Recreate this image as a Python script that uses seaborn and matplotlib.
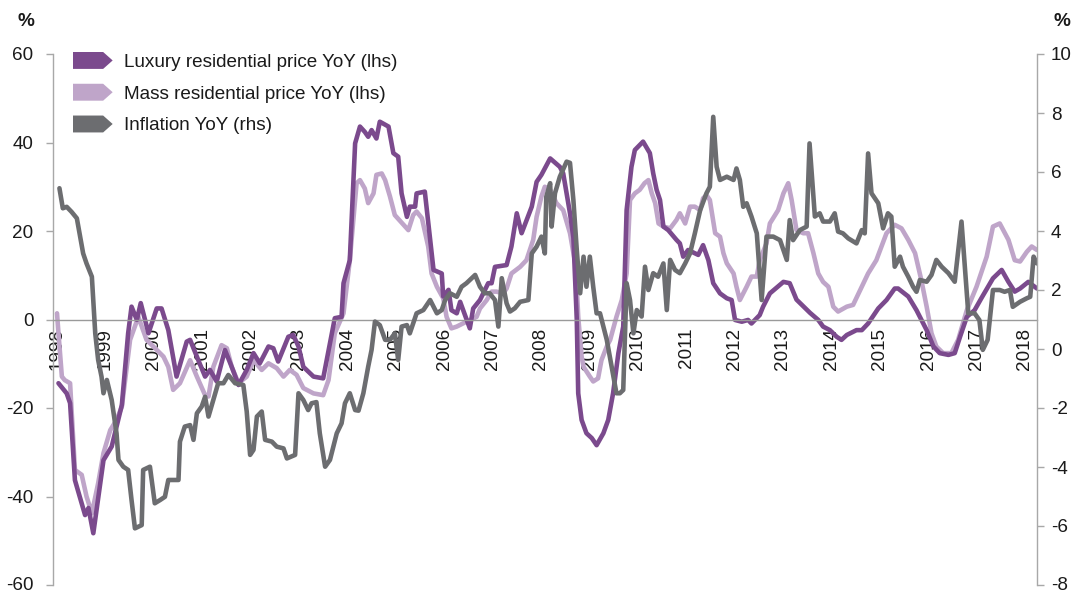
import numpy as np
import pandas as pd
import matplotlib
matplotlib.use("Agg")
import matplotlib.pyplot as plt
import seaborn as sns
from matplotlib.lines import Line2D
from matplotlib.patches import Polygon
from matplotlib.legend_handler import HandlerBase

# ---------------- data (decimal years, values) ----------------
lux_t = [1998.03, 1998.20, 1998.27, 1998.37, 1998.58, 1998.65, 1998.75, 1998.96, 1999.13, 1999.34,
         1999.47, 1999.54, 1999.65, 1999.73, 1999.89, 2000.06, 2000.16, 2000.30, 2000.47, 2000.68,
         2000.75, 2000.92, 2001.06, 2001.16, 2001.30, 2001.47, 2001.61, 2001.75, 2001.92, 2002.06,
         2002.19, 2002.37, 2002.47, 2002.57, 2002.78, 2002.88, 2002.99, 2003.09, 2003.30, 2003.50,
         2003.74, 2003.88, 2003.92, 2004.05, 2004.16, 2004.26, 2004.36, 2004.43, 2004.50, 2004.60,
         2004.67, 2004.85, 2004.95, 2005.05, 2005.12, 2005.23, 2005.29, 2005.40, 2005.43, 2005.60,
         2005.78, 2005.95, 2005.98, 2006.09, 2006.15, 2006.26, 2006.33, 2006.53, 2006.60, 2006.74,
         2006.91, 2006.98, 2007.05, 2007.29, 2007.39, 2007.50, 2007.60, 2007.81, 2007.91, 2008.01,
         2008.19, 2008.39, 2008.46, 2008.60, 2008.67, 2008.74, 2008.77, 2008.84, 2008.94, 2009.05,
         2009.15, 2009.29, 2009.39, 2009.49, 2009.60, 2009.70, 2009.77, 2009.87, 2009.94, 2010.11,
         2010.25, 2010.32, 2010.39, 2010.46, 2010.53, 2010.63, 2010.80, 2010.87, 2010.94, 2011.04,
         2011.25, 2011.35, 2011.46, 2011.56, 2011.70, 2011.84, 2011.94, 2012.01, 2012.15, 2012.28,
         2012.35, 2012.52, 2012.59, 2012.73, 2013.01, 2013.14, 2013.28, 2013.42, 2013.56, 2013.73,
         2013.83, 2013.97, 2014.11, 2014.21, 2014.32, 2014.52, 2014.63, 2014.76, 2014.97, 2015.14,
         2015.31, 2015.38, 2015.59, 2015.76, 2015.97, 2016.11, 2016.24, 2016.42, 2016.55, 2016.66,
         2016.80, 2016.96, 2017.10, 2017.34, 2017.52, 2017.66, 2017.79, 2017.90, 2018.07, 2018.25]
lux_v = [-14.4, -16.7, -18.9, -36.3, -44.2, -42.6, -48.3, -31.8, -28.7, -19.3,
         -3.1, 2.9, -0.1, 3.7, -3.1, 2.5, 2.5, -2.4, -12.9, -5.0,
         -4.6, -9.2, -12.9, -11.4, -14.0, -6.9, -10.7, -14.8, -11.4, -7.6,
         -9.9, -6.1, -6.5, -9.5, -3.9, -3.5, -6.1, -10.7, -12.9, -13.3,
         0.3, 0.6, 8.2, 13.4, 39.8, 43.6, 42.4, 41.3, 42.8, 40.9,
         44.7, 43.6, 37.6, 36.8, 28.5, 23.2, 25.5, 25.5, 28.5, 28.9,
         11.2, 10.4, 5.2, 6.7, 2.1, 1.4, 4.0, -2.0, 2.5, 4.4,
         8.2, 8.2, 11.9, 12.3, 16.5, 24.0, 19.5, 25.5, 31.1, 32.7,
         36.4, 34.5, 33.0, 24.0, 18.5, 0.0, -16.7, -22.7, -25.7, -26.8,
         -28.4, -25.7, -22.7, -16.7, -7.6, -1.6, 24.7, 34.5, 38.3, 40.2,
         37.6, 33.0, 29.3, 27.0, 21.0, 20.2, 18.0, 17.2, 14.2, 15.7,
         14.6, 16.8, 13.4, 8.2, 5.9, 4.8, 4.4, -0.1, -0.5, -0.1,
         -0.9, 1.0, 2.9, 5.9, 8.5, 8.2, 4.5, 3.0, 1.5, -0.1,
         -1.6, -2.4, -3.9, -4.6, -3.5, -2.4, -2.4, -0.9, 2.5, 4.4,
         7.0, 7.0, 5.2, 2.1, -2.4, -6.1, -7.6, -8.0, -7.6, -3.9,
         0.6, 2.1, 4.8, 9.3, 11.2, 8.5, 6.3, 7.0, 8.5, 7.0]

mass_t = [1998.00, 1998.03, 1998.10, 1998.16, 1998.27, 1998.37, 1998.51, 1998.61, 1998.72, 1998.85,
          1998.96, 1999.10, 1999.23, 1999.34, 1999.51, 1999.68, 1999.85, 1999.99, 2000.20, 2000.30,
          2000.40, 2000.54, 2000.75, 2000.89, 2001.06, 2001.13, 2001.23, 2001.40, 2001.51, 2001.61,
          2001.75, 2001.92, 2002.06, 2002.23, 2002.37, 2002.54, 2002.68, 2002.81, 2002.95, 2003.09,
          2003.30, 2003.50, 2003.61, 2003.74, 2003.92, 2004.05, 2004.19, 2004.26, 2004.36, 2004.43,
          2004.54, 2004.60, 2004.71, 2004.78, 2004.88, 2004.98, 2005.16, 2005.26, 2005.36, 2005.43,
          2005.54, 2005.67, 2005.74, 2005.85, 2005.98, 2006.05, 2006.15, 2006.26, 2006.46, 2006.67,
          2006.74, 2006.88, 2006.98, 2007.08, 2007.22, 2007.29, 2007.39, 2007.57, 2007.70, 2007.84,
          2007.91, 2008.01, 2008.08, 2008.19, 2008.32, 2008.46, 2008.60, 2008.72, 2008.77, 2008.84,
          2008.88, 2009.01, 2009.08, 2009.18, 2009.25, 2009.36, 2009.43, 2009.56, 2009.67, 2009.77,
          2009.84, 2009.94, 2010.04, 2010.14, 2010.22, 2010.29, 2010.36, 2010.43, 2010.53, 2010.67,
          2010.80, 2010.87, 2010.98, 2011.08, 2011.18, 2011.29, 2011.35, 2011.42, 2011.49, 2011.60,
          2011.70, 2011.77, 2011.84, 2011.98, 2012.04, 2012.11, 2012.25, 2012.35, 2012.46, 2012.52,
          2012.66, 2012.73, 2012.90, 2013.01, 2013.11, 2013.18, 2013.28, 2013.42, 2013.52, 2013.63,
          2013.73, 2013.83, 2013.94, 2014.04, 2014.14, 2014.32, 2014.45, 2014.63, 2014.76, 2014.93,
          2015.14, 2015.31, 2015.45, 2015.59, 2015.73, 2015.86, 2015.97, 2016.07, 2016.17, 2016.31,
          2016.48, 2016.62, 2016.80, 2017.00, 2017.21, 2017.34, 2017.48, 2017.66, 2017.79, 2017.90,
          2018.04, 2018.14, 2018.25]
mass_v = [1.4, -3.1, -12.9, -13.7, -14.4, -34.0, -35.1, -40.0, -43.8, -37.0,
          -30.2, -25.0, -22.7, -19.7, -4.6, 0.6, -4.6, -6.1, -8.4, -10.7,
          -15.9, -14.4, -9.2, -12.9, -17.1, -17.4, -10.7, -5.8, -6.5, -10.7,
          -14.4, -12.9, -9.2, -11.4, -9.9, -11.0, -12.9, -11.4, -12.5, -15.5,
          -16.7, -17.1, -13.7, -3.1, 1.4, 13.4, 30.8, 31.5, 29.6, 26.3,
          28.5, 32.7, 33.0, 31.5, 27.8, 23.6, 21.4, 20.2, 23.6, 24.4,
          22.9, 16.5, 10.4, 7.4, 4.8, 0.6, -2.0, -1.6, -0.5, 0.6,
          2.5, 4.4, 6.3, 6.3, 5.9, 7.0, 10.4, 11.9, 13.4, 18.0,
          23.2, 27.8, 30.0, 29.3, 26.3, 24.7, 19.5, 11.9, 0.6, -8.4,
          -10.7, -12.9, -14.0, -13.3, -9.2, -6.1, -4.6, 0.6, 4.4, 10.4,
          27.0, 28.5, 29.3, 30.8, 31.5, 28.5, 26.3, 21.7, 21.0, 20.6,
          22.5, 24.0, 21.7, 25.5, 25.5, 24.7, 27.4, 28.1, 27.0, 19.5,
          18.7, 15.0, 12.7, 10.4, 7.4, 4.4, 7.4, 9.7, 9.7, 13.4,
          17.2, 21.7, 24.7, 28.5, 30.8, 27.0, 20.2, 19.5, 19.5, 15.0,
          10.4, 8.5, 7.4, 2.9, 1.8, 2.9, 3.3, 7.4, 10.4, 13.4,
          19.5, 21.4, 20.6, 18.0, 15.0, 8.9, 2.9, -3.1, -6.1, -7.6,
          -7.6, -4.6, 2.1, 7.4, 14.2, 21.0, 21.7, 18.0, 13.4, 13.1,
          15.3, 16.5, 15.7]

inf_t = [1998.05, 1998.12, 1998.20, 1998.30, 1998.41, 1998.54, 1998.61, 1998.72, 1998.79, 1998.85,
         1998.92, 1998.96, 1999.03, 1999.13, 1999.23, 1999.27, 1999.37, 1999.47, 1999.54, 1999.61,
         1999.75, 1999.78, 1999.92, 2000.02, 2000.13, 2000.23, 2000.30, 2000.51, 2000.54, 2000.64,
         2000.75, 2000.82, 2000.89, 2000.99, 2001.06, 2001.13, 2001.23, 2001.33, 2001.44, 2001.54,
         2001.68, 2001.85, 2001.92, 2001.99, 2002.06, 2002.13, 2002.23, 2002.30, 2002.44, 2002.54,
         2002.68, 2002.75, 2002.92, 2002.99, 2003.09, 2003.19, 2003.26, 2003.36, 2003.43, 2003.54,
         2003.64, 2003.78, 2003.88, 2003.95, 2004.05, 2004.16, 2004.23, 2004.33, 2004.43, 2004.50,
         2004.57, 2004.67, 2004.78, 2004.88, 2004.98, 2005.05, 2005.12, 2005.23, 2005.29, 2005.43,
         2005.57, 2005.71, 2005.85, 2005.95, 2006.02, 2006.12, 2006.26, 2006.36, 2006.46, 2006.64,
         2006.74, 2006.84, 2006.94, 2007.05, 2007.12, 2007.19, 2007.29, 2007.36, 2007.46, 2007.57,
         2007.74, 2007.81, 2007.91, 2008.01, 2008.08, 2008.11, 2008.19, 2008.22, 2008.29, 2008.39,
         2008.53, 2008.60, 2008.67, 2008.74, 2008.81, 2008.88, 2008.94, 2009.01, 2009.08, 2009.15,
         2009.22, 2009.29, 2009.36, 2009.46, 2009.56, 2009.63, 2009.70, 2009.77, 2009.84, 2009.91,
         2009.98, 2010.08, 2010.15, 2010.22, 2010.32, 2010.42, 2010.53, 2010.60, 2010.67, 2010.77,
         2010.87, 2010.98, 2011.08, 2011.18, 2011.29, 2011.42, 2011.49, 2011.56, 2011.63, 2011.70,
         2011.84, 2011.98, 2012.04, 2012.11, 2012.18, 2012.25, 2012.35, 2012.46, 2012.56, 2012.66,
         2012.80, 2012.94, 2013.08, 2013.14, 2013.21, 2013.35, 2013.49, 2013.55, 2013.66, 2013.76,
         2013.83, 2013.97, 2014.07, 2014.14, 2014.24, 2014.35, 2014.52, 2014.63, 2014.69, 2014.76,
         2014.83, 2014.97, 2015.07, 2015.17, 2015.24, 2015.31, 2015.42, 2015.48, 2015.59, 2015.69,
         2015.76, 2015.83, 2015.97, 2016.07, 2016.17, 2016.28, 2016.42, 2016.55, 2016.69, 2016.76,
         2016.83, 2016.96, 2017.06, 2017.13, 2017.23, 2017.34, 2017.48, 2017.58, 2017.69, 2017.75,
         2017.90, 2018.04, 2018.11, 2018.18, 2018.25]
inf_v = [5.45, 4.77, 4.82, 4.65, 4.43, 3.24, 2.90, 2.45, 0.53, -0.37,
         -0.94, -1.50, -1.05, -1.73, -2.86, -3.76, -3.99, -4.10, -5.12, -6.08,
         -5.97, -4.10, -3.99, -5.23, -5.12, -5.01, -4.44, -4.44, -3.14, -2.63,
         -2.58, -3.08, -2.18, -1.95, -1.62, -2.29, -1.73, -1.16, -1.16, -0.88,
         -1.16, -1.22, -2.12, -3.59, -3.42, -2.29, -2.12, -3.08, -3.14, -3.31,
         -3.37, -3.71, -3.59, -1.50, -1.73, -2.07, -1.84, -1.80, -2.86, -3.99,
         -3.76, -2.86, -2.52, -1.84, -1.50, -2.07, -2.09, -1.50, -0.60, -0.03,
         0.93, 0.81, 0.31, 0.31, 0.53, -0.37, 0.76, 0.81, 0.53, 1.21,
         1.32, 1.66, 1.21, 1.32, 1.66, 1.89, 1.77, 2.11, 2.23, 2.51,
         2.11, 1.89, 1.89, 1.66, 0.76, 2.40, 1.55, 1.27, 1.38, 1.60,
         1.66, 3.24, 3.47, 3.81, 3.24, 5.16, 5.62, 4.15, 5.28, 5.84,
         6.35, 6.31, 5.05, 3.36, 1.89, 3.13, 2.11, 3.13, 2.11, 1.21,
         1.21, 0.76, 0.31, -0.60, -1.50, -1.50, -1.39, 2.23, 1.66, 0.53,
         1.32, 1.10, 2.79, 2.00, 2.57, 2.45, 2.90, 1.32, 3.02, 2.68,
         2.57, 2.90, 3.24, 3.92, 4.71, 5.28, 5.50, 7.87, 6.18, 5.73,
         5.84, 5.73, 6.12, 5.73, 4.82, 4.94, 4.49, 3.92, 1.66, 3.81,
         3.81, 3.69, 3.02, 4.37, 3.69, 4.03, 4.15, 6.97, 4.49, 4.60,
         4.32, 4.32, 4.60, 3.98, 3.92, 3.75, 3.58, 4.03, 3.92, 6.63,
         5.28, 4.94, 4.09, 4.60, 4.49, 2.79, 3.13, 2.79, 2.45, 2.11,
         1.94, 2.34, 2.28, 2.51, 3.02, 2.79, 2.57, 2.28, 4.32, 2.79,
         1.21, 1.21, 0.98, -0.03, 0.31, 2.00, 2.00, 1.94, 2.00, 1.43,
         1.60, 1.72, 1.77, 3.13, 2.90]

years = list(range(1998, 2019))
year_labels = [str(y) for y in years]
left_ticks = [60, 40, 20, 0, -20, -40, -60]
right_ticks = [10, 8, 6, 4, 2, 0, -2, -4, -6, -8]
series_names = ["Luxury residential price YoY (lhs)",
                "Mass residential price YoY (lhs)",
                "Inflation YoY (rhs)"]

# ---------------- style ----------------
C_LUX = "#7B4A8D"
C_MASS = "#BFA5C9"
C_INF = "#6C6D70"
C_AX = "#A8A8A8"

sns.set_style("white")
plt.rcParams["font.family"] = ["Liberation Sans", "DejaVu Sans"]
plt.rcParams["axes.unicode_minus"] = False
FS = 13.6

W, H = 1074, 593
fig = plt.figure(figsize=(W / 100, H / 100), dpi=100)
ax = fig.add_axes([53 / W, 1 - 585 / H, (1037 - 53) / W, (585 - 54) / H])
ax2 = ax.twinx()

df_lux = pd.DataFrame({"t": lux_t, "v": lux_v})
df_mass = pd.DataFrame({"t": mass_t, "v": mass_v})
df_inf = pd.DataFrame({"t": inf_t, "v": inf_v})

LW = 3.3
sns.lineplot(data=df_mass, x="t", y="v", ax=ax, color=C_MASS, linewidth=LW,
             estimator=None, legend=False)
sns.lineplot(data=df_lux, x="t", y="v", ax=ax, color=C_LUX, linewidth=LW,
             estimator=None, legend=False)
sns.lineplot(data=df_inf, x="t", y="v", ax=ax2, color=C_INF, linewidth=LW,
             estimator=None, legend=False)

ax.set_xlim(1997.917, 2018.25)
ax.set_ylim(-60, 60)
ax2.set_ylim(-8, 10)

for a in (ax, ax2):
    a.set_xlabel("")
    a.set_ylabel("")
    a.grid(False)
    a.patch.set_visible(False)

# left axis
ax.spines["top"].set_visible(False)
ax.spines["right"].set_visible(False)
ax.spines["left"].set_color(C_AX)
ax.spines["left"].set_linewidth(1)
ax.spines["bottom"].set_position(("data", 0))
ax.spines["bottom"].set_color("#9A9A9A")
ax.spines["bottom"].set_linewidth(1)
ax.set_yticks(left_ticks)
ax.set_yticklabels([str(v) for v in left_ticks])
ax.tick_params(axis="y", direction="out", length=5, width=1, color=C_AX,
               pad=9, labelsize=FS, labelcolor="#1a1a1a")
ax.set_xticks(years)
ax.set_xticklabels(year_labels, rotation=90, va="top", ha="center")
ax.tick_params(axis="x", direction="out", length=4, width=1, color="#9A9A9A",
               pad=2, labelsize=FS, labelcolor="#1a1a1a")

# right axis
for s in ("top", "bottom", "left"):
    ax2.spines[s].set_visible(False)
ax2.spines["right"].set_color(C_AX)
ax2.spines["right"].set_linewidth(1)
ax2.set_yticks(right_ticks)
ax2.set_yticklabels([str(v) for v in right_ticks])
ax2.tick_params(axis="y", direction="out", length=5, width=1, color=C_AX,
                pad=5, labelsize=FS, labelcolor="#1a1a1a")

# keep the lowest tick labels inside the canvas (same visual position)
for lab in (ax.get_yticklabels()[-1], ax2.get_yticklabels()[-1]):
    lab.set_va("center")

# % labels
fig.text(26 / W, 1 - 22 / H, "%", fontsize=FS, fontweight="bold",
         ha="center", va="center", color="#1a1a1a")
fig.text(1062 / W, 1 - 22 / H, "%", fontsize=FS, fontweight="bold",
         ha="center", va="center", color="#1a1a1a")


# legend with arrow-shaped handles
class ArrowHandler(HandlerBase):
    def create_artists(self, legend, orig_handle, xdescent, ydescent,
                       width, height, fontsize, trans):
        x0, y0 = -xdescent, -ydescent
        pts = [(x0, y0), (x0 + width * 0.76, y0), (x0 + width, y0 + height / 2),
               (x0 + width * 0.76, y0 + height), (x0, y0 + height)]
        p = Polygon(pts, closed=True, facecolor=orig_handle.get_color(),
                    edgecolor="none", transform=trans)
        return [p]


handles = [Line2D([], [], color=C_LUX), Line2D([], [], color=C_MASS),
           Line2D([], [], color=C_INF)]
leg = fig.legend(handles, series_names, loc="upper left",
                 bbox_to_anchor=(73 / W, 1 - 52 / H), frameon=False,
                 fontsize=FS, handlelength=2.1, handleheight=1.0,
                 handletextpad=0.6, labelspacing=0.68, borderpad=0,
                 borderaxespad=0, handler_map={Line2D: ArrowHandler()})
for t in leg.get_texts():
    t.set_color("#1a1a1a")

fig.savefig("out.png", dpi=100)
